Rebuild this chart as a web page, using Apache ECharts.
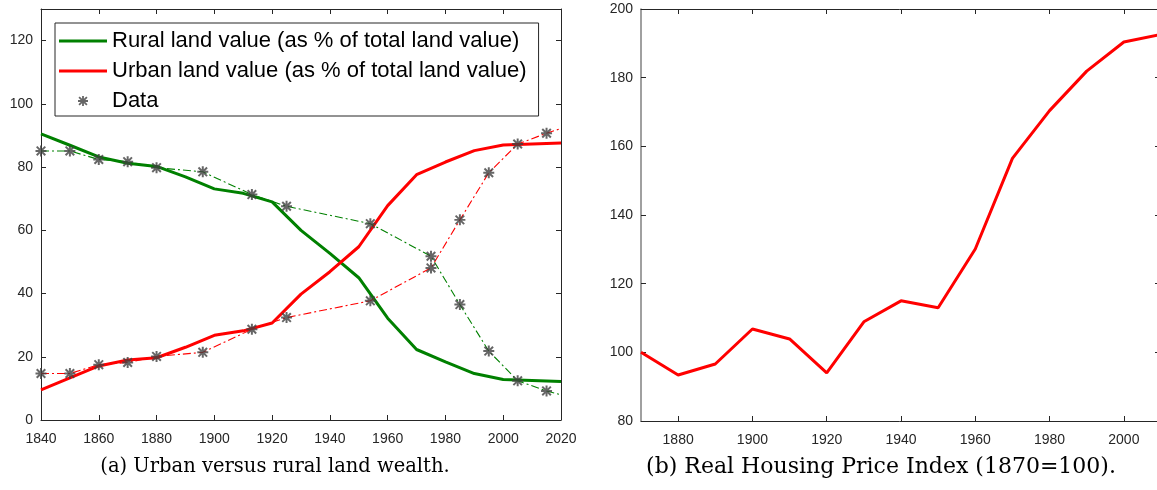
<!DOCTYPE html>
<html><head><meta charset="utf-8">
<script src="https://cdn.jsdelivr.net/npm/echarts@6/dist/echarts.min.js"></script>
<style>html,body{margin:0;padding:0;background:#fff}#c{width:1157px;height:490px}</style>
</head><body><div id="c"></div>
<script>
// ---- data (left panel) ----
const modelYears = [1840,1850,1860,1870,1880,1890,1900,1910,1920,1930,1940,1950,1960,1970,1980,1990,2000,2010,2020];
const ruralModel = [90.5,86.9,83.2,81.2,80.2,76.9,73.1,71.7,69.0,60.0,52.7,45.0,32.2,22.3,18.4,14.7,12.8,12.5,12.2];
const urbanModel = [9.5,13.3,17.1,19.0,19.7,23.0,26.8,28.2,30.7,39.8,46.9,54.8,67.8,77.6,81.6,85.2,87.0,87.3,87.6];
const dataYears = [1840,1850,1860,1870,1880,1896,1913,1925,1954,1975,1985,1995,2005,2015];
const ruralData = [85.1,85.1,82.4,81.7,79.8,78.5,71.3,67.6,62.1,51.8,36.5,21.8,12.4,9.2];
const urbanData = [14.7,14.7,17.5,18.2,20.1,21.4,28.7,32.4,37.7,48.1,63.3,78.2,87.3,90.7];
const dataLineEndYear = 2020;
const ruralDataLineEnd = 8.0;
const urbanDataLineEnd = 92.2;
const leftXTicks = [1840,1860,1880,1900,1920,1940,1960,1980,2000,2020];
const leftYTicks = [0,20,40,60,80,100,120];
// ---- data (right panel) ----
const hpiYears = [1870,1880,1890,1900,1910,1920,1930,1940,1950,1960,1970,1980,1990,2000,2010];
const hpiValues = [100,93.4,96.6,106.8,103.9,94.0,108.9,115.0,113.0,130.1,156.5,170.4,181.9,190.4,192.6];
const rightXTicks = [1880,1900,1920,1940,1960,1980,2000];
const rightYTicks = [80,100,120,140,160,180,200];
// ---- text ----
const nameRural = 'Rural land value (as % of total land value)';
const nameUrban = 'Urban land value (as % of total land value)';
const nameData = 'Data';
const captionA = '(a) Urban versus rural land wealth.';
const captionB = '(b) Real Housing Price Index (1870=100).';

// asterisk symbol built around centre (cx,cy) with radius r and half stroke h
function asteriskPath(cx, cy, r, h) {
  const d = r * 0.78, o = h / Math.SQRT2;
  const P = (pts) => 'M' + pts.map(p => (cx + p[0]).toFixed(2) + ' ' + (cy + p[1]).toFixed(2)).join('L') + 'Z';
  return [
    P([[-h,-r],[h,-r],[h,r],[-h,r]]),
    P([[-r,-h],[r,-h],[r,h],[-r,h]]),
    P([[-d+o,-d-o],[d+o,d-o],[d-o,d+o],[-d-o,-d+o]]),
    P([[d-o,-d-o],[d+o,-d+o],[-d+o,d+o],[-d-o,d-o]])
  ].join(' ');
}
const BOX = 'M0 0L0.01 0L0.01 0.01Z M48 22L47.99 22L47.99 21.99Z ';
const starSymbol = 'path://' + asteriskPath(10, 10, 10, 1.8);
const starLegend = 'path://' + BOX + asteriskPath(24, 11, 5, 0.9);
const lineLegend = 'path://' + BOX + 'M0 9.5L48 9.5L48 12.5L0 12.5Z';

const FONT = 'Liberation Sans, Arial, sans-serif';
const AX = '#262626';

function axis(o) {
  const a = {
    type: 'value', gridIndex: o.grid, position: o.pos, min: o.min, max: o.max,
    axisLine: { show: true, onZero: false, lineStyle: { color: o.lineColor || AX, width: o.lineWidth || 1 } },
    axisTick: { show: true, inside: true, length: o.tickLen || 5, lineStyle: { color: AX, width: 1 } },
    axisLabel: { show: !!o.labels, color: AX, fontSize: 14, fontFamily: FONT, margin: o.margin || 8,
      formatter: (v) => String(v) },
    splitLine: { show: false }
  };
  if (o.ticks) {
    a.axisTick.customValues = o.ticks;
    a.axisLabel.customValues = o.ticks;
  }
  return a;
}

const chart = echarts.init(document.getElementById('c'), null, { renderer: 'canvas' });
chart.setOption({
  animation: false,
  backgroundColor: '#ffffff',
  grid: [
    { left: 41, top: 9, width: 520, height: 411, outerBoundsMode: 'none' },
    { left: 641, top: 9, width: 520, height: 412, outerBoundsMode: 'none' }
  ],
  xAxis: [
    axis({ grid: 0, pos: 'bottom', min: 1840, max: 2020, ticks: leftXTicks, labels: true, margin: 12 }),
    axis({ grid: 0, pos: 'top', min: 1840, max: 2020, ticks: leftXTicks }),
    axis({ grid: 1, pos: 'bottom', min: 1870, max: 2010, ticks: rightXTicks, labels: true, margin: 12 }),
    axis({ grid: 1, pos: 'top', min: 1870, max: 2010, ticks: rightXTicks })
  ],
  yAxis: [
    axis({ grid: 0, pos: 'left', min: 0, max: 130, ticks: leftYTicks, labels: true }),
    axis({ grid: 0, pos: 'right', min: 0, max: 130, ticks: leftYTicks }),
    axis({ grid: 1, pos: 'left', min: 80, max: 200, ticks: rightYTicks, labels: true, lineColor: '#808080', lineWidth: 1.5 }),
    axis({ grid: 1, pos: 'right', min: 80, max: 200, ticks: rightYTicks, tickLen: 6 })
  ],
  legend: {
    orient: 'vertical', left: 55, top: 23,
    padding: [7, 12, 4, 4], itemGap: 8, itemWidth: 48, itemHeight: 22,
    backgroundColor: '#ffffff', borderColor: AX, borderWidth: 1,
    textStyle: { color: '#000', fontSize: 22, fontFamily: FONT },
    data: [ { name: nameRural, icon: lineLegend }, { name: nameUrban, icon: lineLegend }, { name: nameData, icon: starLegend } ]
  },
  series: [
    { name: nameRural, type: 'line', xAxisIndex: 0, yAxisIndex: 0, symbol: 'none',
      data: modelYears.map((y, i) => [y, ruralModel[i]]),
      itemStyle: { color: '#008000' }, lineStyle: { color: '#008000', width: 3 }, z: 2 },
    { name: nameUrban, type: 'line', xAxisIndex: 0, yAxisIndex: 0, symbol: 'none',
      data: modelYears.map((y, i) => [y, urbanModel[i]]),
      itemStyle: { color: '#ff0000' }, lineStyle: { color: '#ff0000', width: 3 }, z: 2 },
    { name: 'ruralDataLine', type: 'line', xAxisIndex: 0, yAxisIndex: 0, symbol: 'none',
      data: dataYears.map((y, i) => [y, ruralData[i]]).concat([[dataLineEndYear, ruralDataLineEnd]]),
      lineStyle: { color: '#008000', width: 1.1, type: [8, 3, 2, 3] }, z: 3 },
    { name: 'urbanDataLine', type: 'line', xAxisIndex: 0, yAxisIndex: 0, symbol: 'none',
      data: dataYears.map((y, i) => [y, urbanData[i]]).concat([[dataLineEndYear, urbanDataLineEnd]]),
      lineStyle: { color: '#ff0000', width: 1.1, type: [8, 3, 2, 3] }, z: 3 },
    { name: nameData, type: 'scatter', xAxisIndex: 0, yAxisIndex: 0,
      symbol: starSymbol, symbolSize: 11,
      data: dataYears.map((y, i) => [y, ruralData[i]]).concat(dataYears.map((y, i) => [y, urbanData[i]])),
      itemStyle: { color: '#404040' }, z: 4 },
    { name: 'Real Housing Price Index', type: 'line', xAxisIndex: 2, yAxisIndex: 2, symbol: 'none',
      data: hpiYears.map((y, i) => [y, hpiValues[i]]),
      lineStyle: { color: '#ff0000', width: 3 }, z: 2 }
  ],
  graphic: [
    { type: 'text', x: 275, y: 467, style: { text: captionA, textAlign: 'center', textVerticalAlign: 'middle',
      font: '19.5px "DejaVu Serif", serif', fill: '#000' } },
    { type: 'text', x: 881, y: 467, style: { text: captionB, textAlign: 'center', textVerticalAlign: 'middle',
      font: '22px "DejaVu Serif", serif', fill: '#000' } }
  ]
});
</script>
</body></html>
